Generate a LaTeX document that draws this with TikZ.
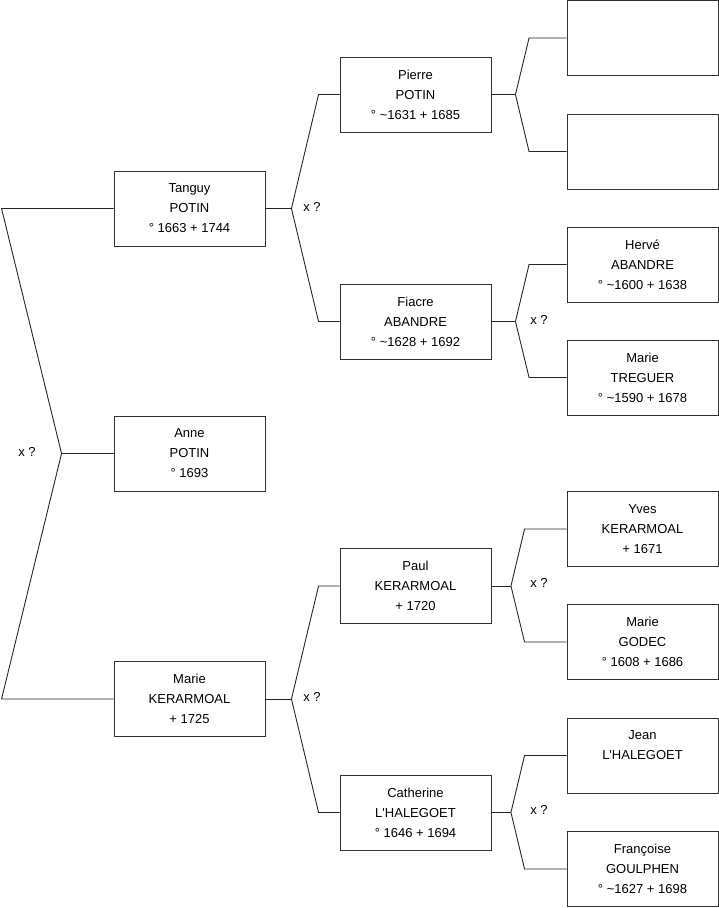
\documentclass[tikz,border=0pt]{standalone}
\usepackage{fontspec}
\setmainfont{Liberation Sans}
\begin{document}
\begin{tikzpicture}[x=1pt,y=-1pt,
  person/.style={draw=black!80, line width=0.9pt, minimum width=151pt, minimum height=75pt,
    inner sep=0pt, align=center, font=\fontsize{13}{20}\selectfont},
  conn/.style={draw=black!85, line width=0.9pt},
  lbl/.style={font=\fontsize{13}{16}\selectfont, inner sep=0pt}]
\useasboundingbox (0,0) rectangle (719,908);
% column 1
\node[person] (tanguy) at (189.5,208.5) {Tanguy\\POTIN\\° 1663 + 1744};
\node[person] (anne) at (189.5,453.5) {Anne\\POTIN\\° 1693};
\node[person] (mariek) at (189.5,699) {Marie\\KERARMOAL\\+ 1725};
% column 2
\node[person] (pierre) at (415.5,94.5) {Pierre\\POTIN\\° \textasciitilde 1631 + 1685};
\node[person] (fiacre) at (415.5,321.5) {Fiacre\\ABANDRE\\° \textasciitilde 1628 + 1692};
\node[person] (paul) at (415.5,586) {Paul\\KERARMOAL\\+ 1720};
\node[person] (catherine) at (415.5,812.5) {Catherine\\L\textquotesingle HALEGOET\\° 1646 + 1694};
% column 3
\node[person] (e1) at (642.5,38) {};
\node[person] (e2) at (642.5,151.5) {};
\node[person] (herve) at (642.5,264.5) {Hervé\\ABANDRE\\° \textasciitilde 1600 + 1638};
\node[person] (mariet) at (642.5,377.5) {Marie\\TREGUER\\° \textasciitilde 1590 + 1678};
\node[person] (yves) at (642.5,529) {Yves\\KERARMOAL\\+ 1671};
\node[person] (godec) at (642.5,642) {Marie\\GODEC\\° 1608 + 1686};
\node[person] (jean) at (642.5,755.5) {Jean\\L\textquotesingle HALEGOET\\\mbox{}};
\node[person] (francoise) at (642.5,869) {Françoise\\GOULPHEN\\° \textasciitilde 1627 + 1698};
% junctions
\coordinate (jA) at ([xshift=-52pt]anne.west);
\coordinate (jT) at ([xshift=26pt]tanguy.east);
\coordinate (jM) at ([xshift=26pt]mariek.east);
\coordinate (jP) at ([xshift=24pt]pierre.east);
\coordinate (jF) at ([xshift=24pt]fiacre.east);
\coordinate (jPa) at ([xshift=19.5pt]paul.east);
\coordinate (jC) at ([xshift=19.5pt]catherine.east);
% connectors
\draw[conn] (tanguy.west) -- ([xshift=-112pt]tanguy.west) -- (jA) -- ([xshift=-112pt]mariek.west) -- (mariek.west);
\draw[conn] (jA) -- (anne.west);
\draw[conn] (pierre.west) -- ([xshift=-21pt]pierre.west) -- (jT) -- ([xshift=-21pt]fiacre.west) -- (fiacre.west);
\draw[conn] (tanguy.east) -- (jT);
\draw[conn] (paul.west) -- ([xshift=-21pt]paul.west) -- (jM) -- ([xshift=-21pt]catherine.west) -- (catherine.west);
\draw[conn] (mariek.east) -- (jM);
\draw[conn] (e1.west) -- ([xshift=-37.5pt]e1.west) -- (jP) -- ([xshift=-37.5pt]e2.west) -- (e2.west);
\draw[conn] (pierre.east) -- (jP);
\draw[conn] (herve.west) -- ([xshift=-37.5pt]herve.west) -- (jF) -- ([xshift=-37.5pt]mariet.west) -- (mariet.west);
\draw[conn] (fiacre.east) -- (jF);
\draw[conn] (yves.west) -- ([xshift=-42pt]yves.west) -- (jPa) -- ([xshift=-42pt]godec.west) -- (godec.west);
\draw[conn] (paul.east) -- (jPa);
\draw[conn] (jean.west) -- ([xshift=-42pt]jean.west) -- (jC) -- ([xshift=-42pt]francoise.west) -- (francoise.west);
\draw[conn] (catherine.east) -- (jC);
% labels
\node[lbl] (l0) at (27,452) {x ?};
\node[lbl] (l1) at (312,207) {x ?};
\node[lbl] (l2) at (539,320) {x ?};
\node[lbl] (l3) at (312,697) {x ?};
\node[lbl] (l4) at (539,583) {x ?};
\node[lbl] (l5) at (539,810) {x ?};
\end{tikzpicture}
\end{document}
